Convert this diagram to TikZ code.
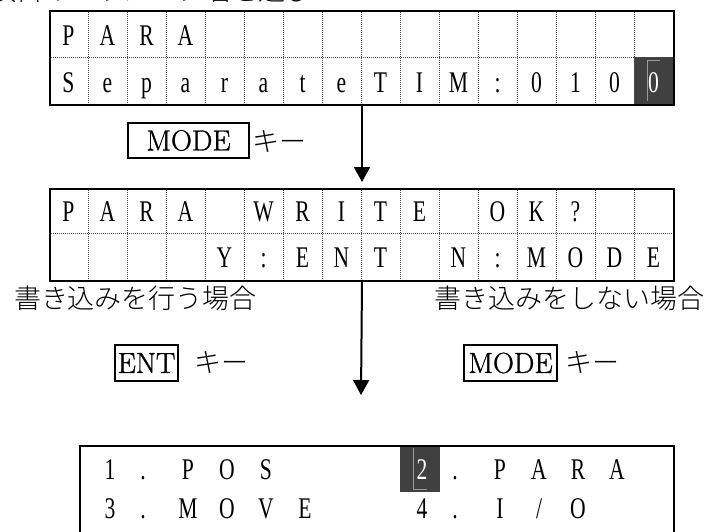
\documentclass[tikz,border=0pt]{standalone}
\usepackage{fontspec}
\usetikzlibrary{arrows.meta}
\newfontfamily\lcd[FakeStretch=0.72]{Liberation Serif}
\newfontfamily\keyfont[FakeBold=1]{Latin Modern Roman}
\newfontfamily\jp{Noto Sans CJK JP}[UprightFont={* Light}]
\begin{document}
\begin{tikzpicture}[x=1pt,y=-1pt,
  frame/.style={draw, line width=2pt, inner sep=0pt},
  gridline/.style={black!70, line width=0.9pt, dash pattern=on 1pt off 1pt},
  lcdch/.style={font=\lcd\fontsize{30}{30}\selectfont, anchor=base, inner sep=0pt},
  keybox/.style={draw, line width=2pt, inner sep=0pt, font=\keyfont\fontsize{29}{29}\selectfont},
  jptext/.style={font=\jp\fontsize{27}{27}\selectfont, inner sep=0pt},
  arr/.style={line width=2pt, -{Triangle[width=16pt,length=15pt]}},
  hl/.style={fill=black!75, draw=none},
  cursor/.style={draw=black!40, line width=0.8pt},
]
\useasboundingbox (0,0) rectangle (713,531);
\clip (0,0) rectangle (713,531);
% clipped caption at the very top
\node[jptext, anchor=base east] (cap) at (313,0.5) {項目のパラメータ名を選び};

% ---------- box 1 ----------
\fill[hl] (634,57) rectangle (673,104);
\draw[cursor] (647,101) -- (647,60) -- (660,60);
\foreach \k in {1,...,15} \draw[gridline] ({49+39*\k},10) -- ({49+39*\k},104);
\draw[gridline] (49,57) -- (673,57);
\node[frame, minimum width=624pt, minimum height=94pt, anchor=north west] (box1) at (49,10) {};
\foreach \ch [count=\i from 0] in {P,A,R,A}
  \node[lcdch] (ba\i) at ({68.5+39*\i},45) {\ch};
\foreach \ch [count=\i from 0] in {S,e,p,a,r,a,t,e,T,I,M,:,0,1,0}
  \node[lcdch] (bb\i) at ({68.5+39*\i},92) {\ch};
\node[lcdch, text=white] (bb15) at ({68.5+39*15},92) {0};

% ---------- box 2 ----------
\foreach \k in {1,...,15} \draw[gridline] ({49+39*\k},188) -- ({49+39*\k},280);
\draw[gridline] (49,233) -- (673,233);
\node[frame, minimum width=624pt, minimum height=92pt, anchor=north west] (box2) at (49,188) {};
\foreach \ch [count=\i from 0] in {P,A,R,A,,W,R,I,T,E,,O,K,?}
  \node[lcdch] (ca\i) at ({68.5+39*\i},221) {\ch};
\foreach \ch [count=\i from 0] in {,,,,Y,:,E,N,T,,N,:,M,O,D,E}
  \node[lcdch] (cb\i) at ({68.5+39*\i},267) {\ch};

% ---------- box 3 ----------
\fill[hl] (400,446) rectangle (440,492);
\draw[cursor] (413,448) -- (413,489) -- (427,489);
\node[frame, minimum width=594pt, minimum height=120pt, anchor=north west] (box3) at (79,445) {};
\foreach \ch/\k in {1/0,P/2,O/3,S/4,P/10,A/11,R/12,A/13}
  \node[lcdch] (da\k) at ({110+39*\k},479) {\ch};
\node[lcdch, text=white] (da8) at ({110+39*8},479) {2};
\foreach \k in {1,9} \node[lcdch] (dd\k) at ({104+39*\k},479) {.};
\foreach \ch/\k in {3/0,M/2,O/3,V/4,E/5,4/8,I/10,O/12}
  \node[lcdch] (db\k) at ({110+39*\k},518) {\ch};
\node[lcdch] (db11) at ({110+39*11},518) {/};
\foreach \k in {1,9} \node[lcdch] (de\k) at ({104+39*\k},518) {.};

% ---------- arrows ----------
\draw[arr] (box1.south) -- ([yshift=6pt]box2.north);
\coordinate (tip2) at (361,395);
\draw[arr] (box2.south) -- (tip2);

% ---------- keys and labels ----------
\node[keybox, minimum width=121pt, minimum height=35pt] (mode1) at (188.5,140.5) {MODE};
\node[jptext, anchor=west] (key1) at (252,141) {キー};
\node[jptext] (lab1) at (135.5,298) {書き込みを行う場合};
\node[jptext] (lab2) at (569.5,298) {書き込みをしない場合};
\node[keybox, minimum width=63pt, minimum height=36pt] (ent) at (146.5,363) {ENT};
\node[jptext] (key2) at (221,362) {キー};
\node[keybox, minimum width=93pt, minimum height=36pt] (mode2) at (510.5,363) {MODE};
\node[jptext] (key3) at (592,362) {キー};
\end{tikzpicture}
\end{document}
